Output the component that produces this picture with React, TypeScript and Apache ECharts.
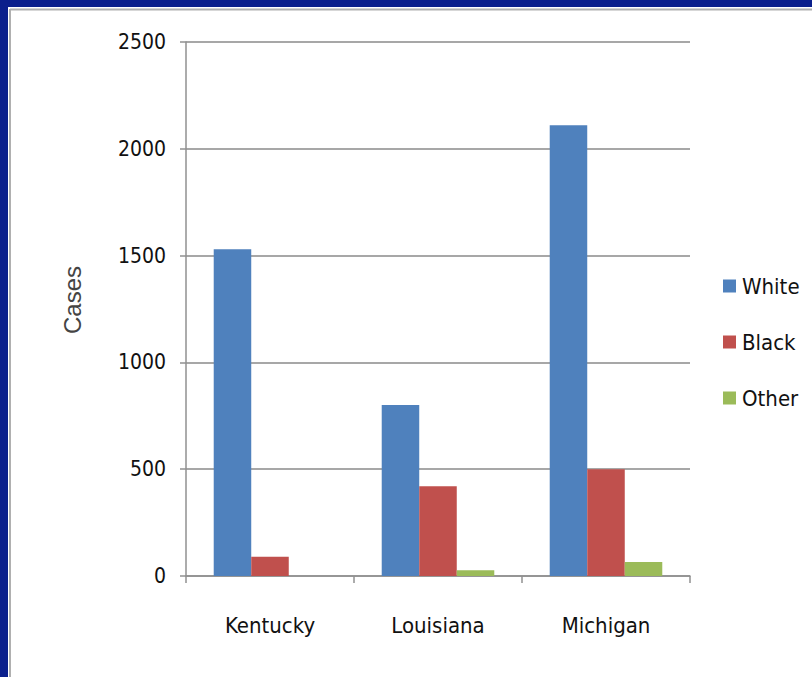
import React, { useEffect, useRef } from "react";
import * as echarts from "echarts";

const categories = ["Kentucky", "Louisiana", "Michigan"];
const seriesNames = ["White", "Black", "Other"];
const whiteValues = [1530, 800, 2110];
const blackValues = [90, 420, 500];
const otherValues = [0, 27, 65];
const yTicks = { min: 0, max: 2500, interval: 500 };
const colors = ["#4f81bd", "#c0504d", "#9bbb59"];

export default function App() {
  const ref = useRef<HTMLDivElement>(null);
  useEffect(() => {
    if (!ref.current) return;
    const chart = echarts.init(ref.current, undefined, { renderer: "svg" });
    const font = "'DejaVu Sans Condensed', 'Liberation Sans Narrow', sans-serif";
    const values = [whiteValues, blackValues, otherValues];
    chart.setOption({
      animation: false,
      backgroundColor: "#0b1f8c",
      graphic: [
        { type: "rect", z: -10, shape: { x: 8, y: 7, width: 804, height: 670 }, style: { fill: "#ffffff" } },
        { type: "line", z: -9, shape: { x1: 10, y1: 9.5, x2: 812, y2: 9.5 }, style: { stroke: "#b0b0b0", lineWidth: 2 } },
        { type: "line", z: -9, shape: { x1: 10, y1: 9, x2: 10, y2: 677 }, style: { stroke: "#b0b0b0", lineWidth: 2 } },
        {
          type: "text",
          x: 72,
          y: 300,
          rotation: Math.PI / 2,
          style: {
            text: "Cases",
            font: "24px 'Liberation Sans', sans-serif",
            fill: "#444444",
            align: "center",
            verticalAlign: "middle",
          },
        },
      ],
      grid: { left: 186, right: 122, top: 42, bottom: 101, containLabel: false },
      legend: {
        orient: "vertical",
        left: 723,
        top: 273,
        padding: 0,
        icon: "rect",
        itemWidth: 13,
        itemHeight: 13,
        itemGap: 30,
        data: seriesNames,
        textStyle: { fontFamily: font, fontSize: 22, color: "#111", lineHeight: 26, padding: [0, 0, 0, 1] },
      },
      xAxis: {
        type: "category",
        data: categories,
        axisLine: { lineStyle: { color: "#909090", width: 1.5 } },
        axisTick: { show: true, length: 7, alignWithLabel: false, lineStyle: { color: "#909090", width: 1.5 } },
        axisLabel: { fontFamily: font, fontSize: 22, color: "#111", margin: 38 },
      },
      yAxis: {
        type: "value",
        min: yTicks.min,
        max: yTicks.max,
        interval: yTicks.interval,
        axisLine: { show: true, lineStyle: { color: "#909090", width: 1.5 } },
        axisTick: { show: true, length: 6, lineStyle: { color: "#909090", width: 1.5 } },
        axisLabel: { fontFamily: font, fontSize: 21, color: "#111", margin: 20, formatter: (v: number) => String(v) },
        splitLine: { show: true, lineStyle: { color: "#8a8a8a", width: 1.5 } },
      },
      series: seriesNames.map((name, i) => ({
        name,
        type: "bar",
        data: values[i],
        barGap: "0%",
        barCategoryGap: "33%",
        itemStyle: { color: colors[i] },
      })),
    });
    return () => chart.dispose();
  }, []);
  return <div ref={ref} style={{ position: "fixed", left: 0, top: 0, width: 812, height: 677 }} />;
}
